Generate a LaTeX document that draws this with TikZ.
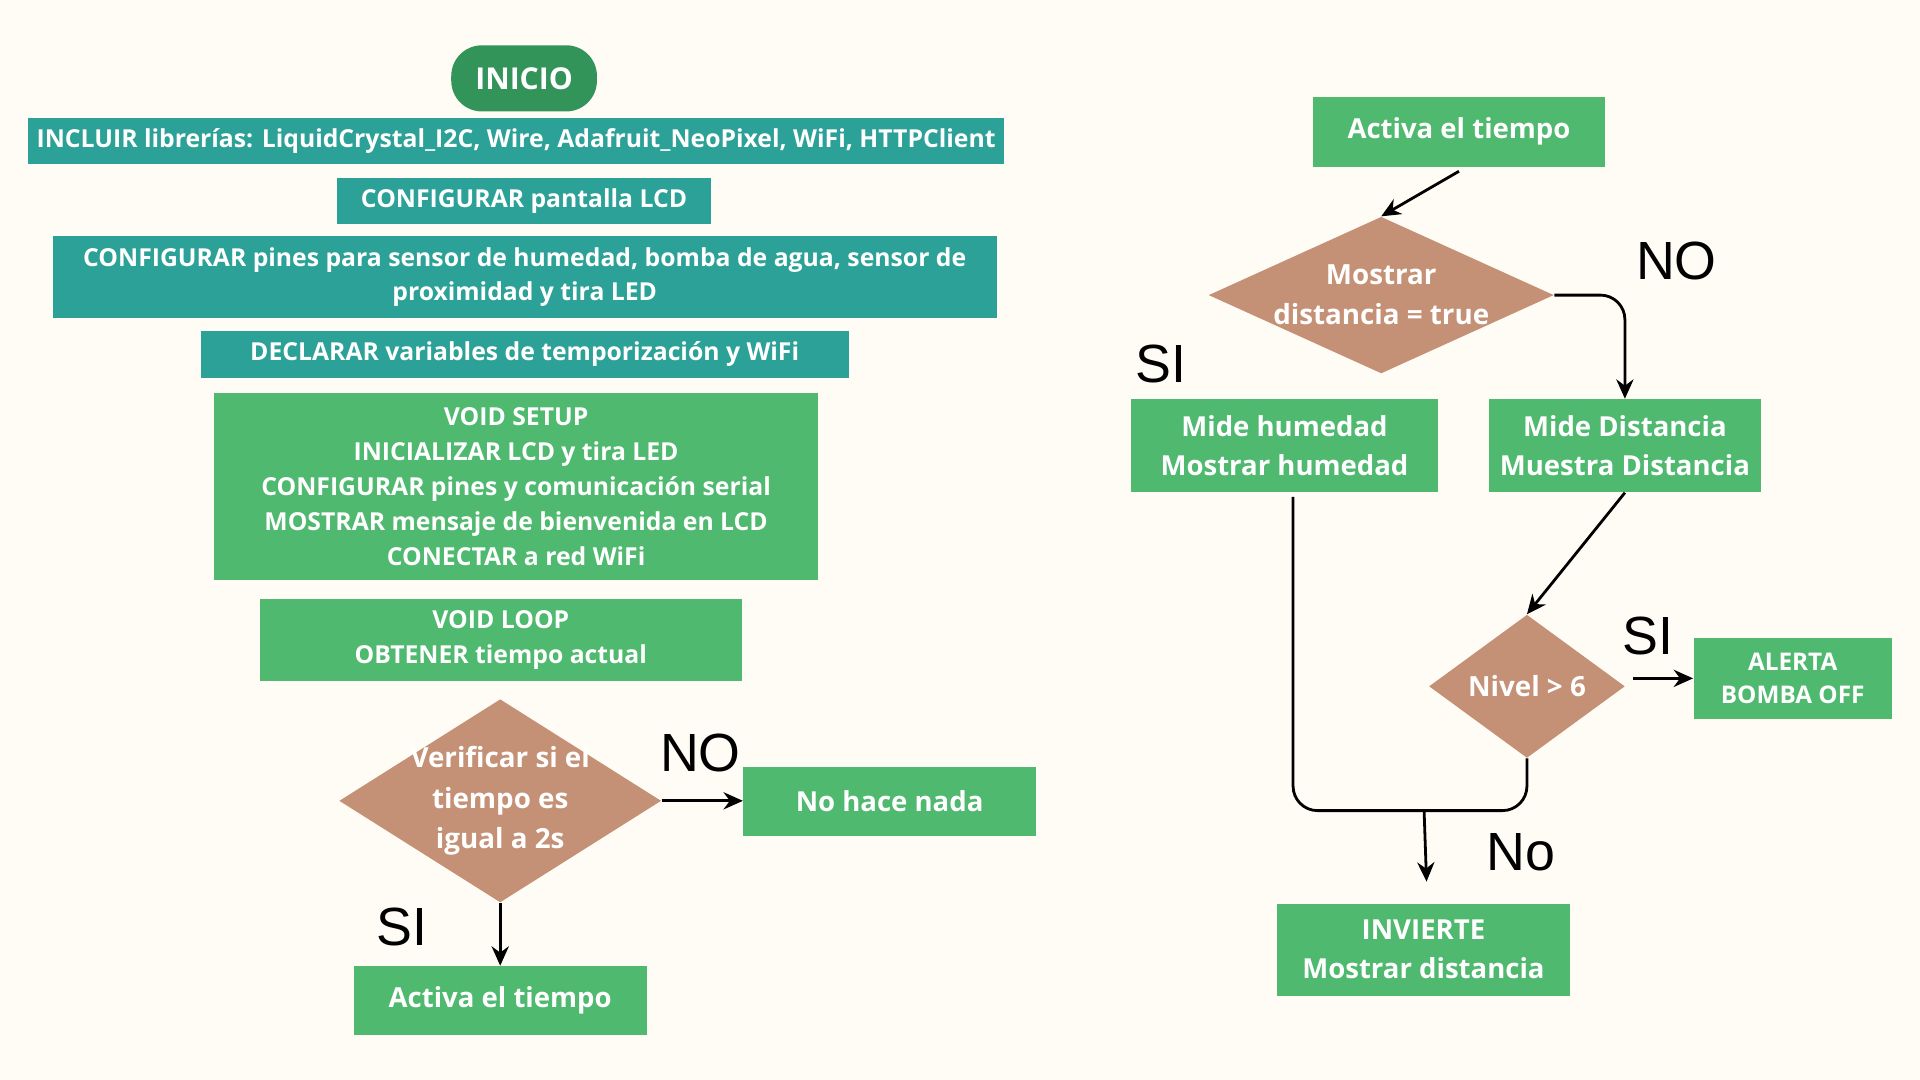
\documentclass[tikz,border=0pt]{standalone}
\usepackage{fontspec}
\usepackage{xcolor}
\usepackage{tikz}
\usetikzlibrary{shapes.geometric,arrows.meta}

\setmainfont{Open Sans}
\newfontfamily\etiqfont{Liberation Sans}

\definecolor{fondo}{HTML}{FFFCF5}
\definecolor{verdeosc}{HTML}{33945A}
\definecolor{turquesa}{HTML}{2CA197}
\definecolor{verde}{HTML}{4FB96F}
\definecolor{marron}{HTML}{C49176}

\tikzset{
  caja/.style={fill=verde, text=white, align=center, inner sep=0pt,
    font=\bfseries\fontsize{12.8}{18.3}\selectfont},
  cajaazul/.style={caja, fill=turquesa, font=\bfseries\fontsize{11.5}{16}\selectfont},
  rombo/.style={diamond, fill=marron, inner sep=0pt},
  textorombo/.style={text=white, align=center, inner sep=0pt,
    font=\bfseries\fontsize{12.9}{18.7}\selectfont},
  flecha/.style={-{Stealth[length=9pt,width=8pt]}, line width=1.3pt},
  linea/.style={line width=1.3pt},
  etiqueta/.style={inner sep=0pt, font=\etiqfont\fontsize{25}{25}\selectfont}
}

\begin{document}
\begin{tikzpicture}[x=0.02cm,y=-0.02cm]
\fill[fondo] (0,0) rectangle (1568,882);

% columna izquierda
\node[caja, fill=verdeosc, rounded corners=0.5cm, minimum width=2.38cm, minimum height=1.08cm,
  font=\bfseries\fontsize{14}{14}\selectfont] (inicio) at (428,64) {INICIO};
\node[cajaazul, minimum width=15.94cm, minimum height=0.76cm] (incluir) at (421.5,115)
  {INCLUIR librerías: LiquidCrystal\_I2C, Wire, Adafruit\_NeoPixel, WiFi, HTTPClient};
\node[cajaazul, minimum width=6.12cm, minimum height=0.76cm] (pantalla) at (428,164)
  {CONFIGURAR pantalla LCD};
\node[cajaazul, minimum width=15.42cm, minimum height=1.34cm] (pines) at (428.5,226.5)
  {CONFIGURAR pines para sensor de humedad, bomba de agua, sensor de\\proximidad y tira LED};
\node[cajaazul, minimum width=10.58cm, minimum height=0.78cm] (declarar) at (428.5,289.5)
  {DECLARAR variables de temporización y WiFi};
\node[caja, minimum width=9.86cm, minimum height=3.06cm, font=\bfseries\fontsize{11.5}{16.2}\selectfont]
  (setup) at (421.5,397.5)
  {VOID SETUP\\INICIALIZAR LCD y tira LED\\CONFIGURAR pines y comunicación serial\\MOSTRAR mensaje de bienvenida en LCD\\CONECTAR a red WiFi};
\node[caja, minimum width=7.88cm, minimum height=1.34cm, font=\bfseries\fontsize{11.5}{16.4}\selectfont]
  (loop) at (409,522.5) {VOID LOOP\\OBTENER tiempo actual};

\node[rombo, minimum width=5.26cm, minimum height=3.32cm] (verif) at (408.5,654) {};
\node[textorombo] (verifT) at (verif) {Verificar si el\\tiempo es\\igual a 2s};
\node[caja, minimum width=4.78cm, minimum height=1.14cm] (nada) at (726.5,654.5) {No hace nada};
\node[caja, minimum width=4.78cm, minimum height=1.12cm] (activa1) at (408.5,817) {Activa el tiempo};

\node[etiqueta] (no1) at (572,615) {NO};
\node[etiqueta] (si1) at (328,757) {SI};

\draw[flecha] (verif.east) -- (verif.east -| nada.west);
\draw[flecha] (verif.south) -- (activa1.north);

% columna derecha
\node[caja, minimum width=4.78cm, minimum height=1.14cm] (activa2) at (1191.5,107.5) {Activa el tiempo};
\node[rombo, minimum width=5.64cm, minimum height=2.56cm] (mostrar) at (1128,241) {};
\node[textorombo] (mostrarT) at (1128,241) {Mostrar\\distancia = true};
\node[caja, minimum width=5cm, minimum height=1.52cm] (humedad) at (1049,364)
  {Mide humedad\\Mostrar humedad};
\node[caja, minimum width=4.44cm, minimum height=1.52cm] (distancia) at (1327,364)
  {Mide Distancia\\Muestra Distancia};
\node[rombo, minimum width=3.2cm, minimum height=2.34cm] (nivel) at (1247,560.5) {};
\node[textorombo] (nivelT) at (nivel) {Nivel > 6};
\node[caja, minimum width=3.24cm, minimum height=1.32cm, font=\bfseries\fontsize{11.3}{15.3}\selectfont]
  (alerta) at (1464,554) {ALERTA\\BOMBA OFF};
\node[caja, minimum width=4.78cm, minimum height=1.5cm] (invierte) at (1162.5,775.5)
  {INVIERTE\\Mostrar distancia};

\node[etiqueta] (no2) at (1369,213) {NO};
\node[etiqueta] (si2) at (948,297) {SI};
\node[etiqueta] (si3) at (1346,519) {SI};
\node[etiqueta] (no3) at (1242,696) {No};

\coordinate (union) at (1163,662);
\coordinate (bajada) at (1165,720);

\draw[flecha] ([yshift=-2pt]activa2.south) -- (mostrar.north);
\draw[flecha, rounded corners=0.4cm] (mostrar.east) -| (distancia.north);
\draw[flecha] (distancia.south) -- (nivel.north);
\draw[flecha] ([xshift=0.12cm]nivel.east |- alerta.west) -- (alerta.west);
\draw[linea, rounded corners=0.4cm] ([xshift=0.14cm,yshift=-2pt]humedad.south) |- (union) -| (nivel.south);
\draw[flecha] (union) -- (bajada);

\end{tikzpicture}
\end{document}
